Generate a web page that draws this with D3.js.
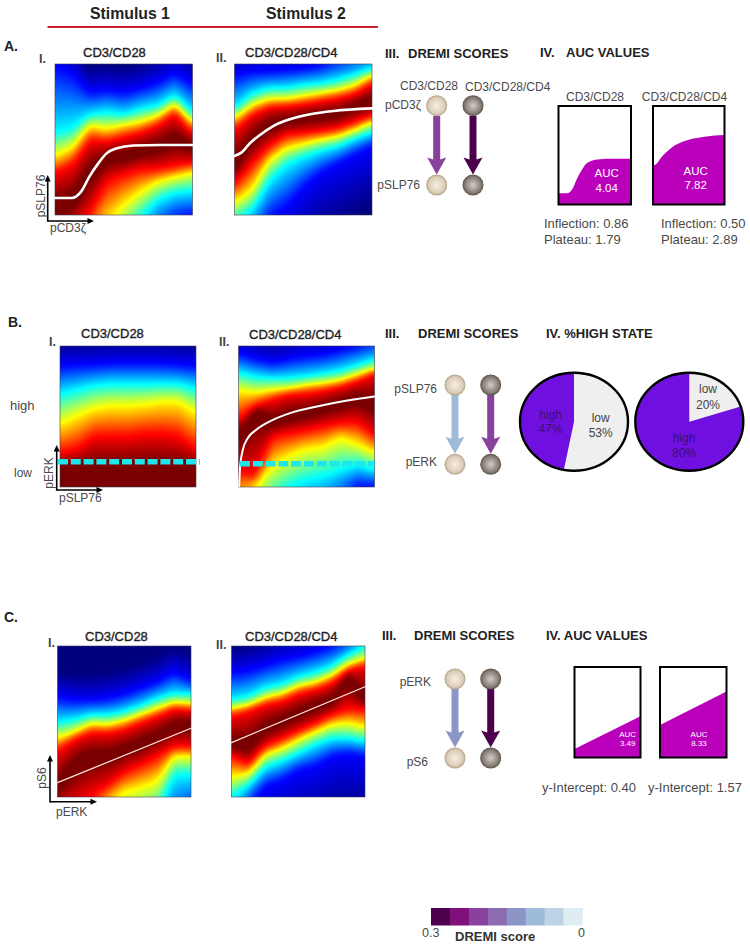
<!DOCTYPE html>
<html><head><meta charset="utf-8">
<script src="https://cdn.jsdelivr.net/npm/d3@7"></script>
<style>html,body{margin:0;padding:0;background:#fff}svg{display:block;font-family:"Liberation Sans",Arial,sans-serif}</style>
</head><body><div id="chart"></div>
<script>
// ---------- DATA ----------
const conditions = ["CD3/CD28", "CD3/CD28/CD4"];
const stimuli = ["Stimulus 1", "Stimulus 2"];
const dremiBins = [0.3, 0.2625, 0.225, 0.1875, 0.15, 0.1125, 0.075, 0.0375];
const dremiColors = ["#4d004b", "#810f7c", "#88419d", "#8c6bb1", "#8c96c6", "#9ebcda", "#bfd3e6", "#e0ecf4"];
// Heat image: per column, depth (% from top) of each colour contour
const heatColumns = [0, .125, .25, .375, .5, .625, .75, .875, 1];
const heatLevels = [.11, .36, .65, .89, 1, .89, .65, .36, .11];
const heatA1 = [
 [1, 6, 19, 17, 19, 16, 12, 6, 13],
 [46, 43, 34, 32, 34, 30, 28, 21, 33],
 [61, 55, 40, 43, 40, 38, 34, 26, 38],
 [72, 66, 50, 51, 48, 45, 40, 32, 45],
 [95, 92, 72, 62, 62, 58, 55, 50, 55],
 [115, 110, 100, 78, 73, 70, 70, 68, 66],
 [130, 125, 115, 106, 94, 85, 78, 75, 72],
 [150, 145, 135, 135, 112, 101, 90, 85, 84],
 [170, 165, 160, 170, 140, 125, 110, 103, 100]];
const heatA2 = [
 [7, 5, 5, 4, 3, 1, -3, -5, -6],
 [30, 20, 16, 16, 14, 13, 11, 7, 3],
 [35, 27, 23, 23, 21, 19, 17, 14, 7],
 [43, 33, 28, 27, 26, 24, 22, 19, 12],
 [68, 50, 40, 38, 36, 34, 33, 28, 24],
 [80, 66, 55, 47, 46, 45, 43, 39, 35],
 [92, 84, 64, 56, 53, 50, 48, 44, 38],
 [104, 96, 77, 66, 61, 57, 54, 49, 45],
 [130, 118, 102, 95, 82, 72, 66, 60, 54]];
const heatB1 = [
 [14, 13, 13, 12, 12, 12, 12, 13, 14],
 [34, 31, 28, 27, 27, 27, 27, 27, 30],
 [55, 49, 44, 42, 42, 41, 39, 39, 47],
 [76, 73, 64, 64, 64, 62, 62, 64, 73],
 [87, 87, 87, 87, 87, 87, 87, 87, 87],
 [140, 140, 140, 140, 140, 140, 140, 140, 140],
 [150, 150, 150, 150, 150, 150, 150, 150, 150],
 [160, 160, 160, 160, 160, 160, 160, 160, 160],
 [170, 170, 170, 170, 170, 170, 170, 170, 170]];
const heatB2 = [
 [5, 9, 12, 9, 7, 6, 3, 0, -3],
 [19, 22, 23, 23, 22, 20, 18, 14, 10],
 [31, 33, 31, 30, 27, 26, 24, 20, 16],
 [52, 42, 37, 33, 33, 31, 28, 24, 18],
 [63, 45, 55, 50, 48, 44, 41, 37, 41],
 [90, 92, 64, 62, 60, 57, 55, 54, 64],
 [107, 100, 85, 78, 73, 72, 65, 70, 76],
 [125, 118, 108, 100, 95, 92, 88, 84, 88],
 [150, 140, 135, 130, 125, 120, 110, 100, 100]];
const heatC1 = [
 [34, 36, 36, 35, 32, 28, 24, 17, 23],
 [51, 49, 46, 46, 44, 40, 35, 32, 32],
 [61, 57, 51, 52, 49, 45, 41, 37, 38],
 [69, 61, 57, 57, 55, 50, 46, 41, 42],
 [95, 78, 73, 73, 69, 65, 60, 53, 52],
 [107, 107, 100, 93, 84, 79, 73, 67, 67],
 [125, 120, 111, 104, 97, 94, 90, 73, 73],
 [146, 142, 135, 129, 120, 113, 109, 85, 85],
 [170, 170, 165, 160, 150, 145, 140, 120, 110]];
const heatC2 = [
 [18, 16, 13, 9, 7, 4, 0, -4, -7],
 [36, 34, 28, 26, 21, 18, 14, 6, 0],
 [41, 39, 34, 31, 26, 24, 19, 12, 8],
 [46, 42, 38, 36, 31, 28, 24, 15, 12],
 [65, 67, 55, 50, 45, 40, 37, 20, 36],
 [73, 79, 67, 62, 57, 52, 46, 42, 42],
 [87, 85, 72, 68, 62, 57, 52, 51, 54],
 [100, 92, 80, 76, 71, 65, 61, 61, 63],
 [122, 105, 93, 89, 82, 80, 73, 71, 73]];
// Fitted response curves (x, y as 0-1 of the plot)
const fitA1x = [0, .12, .19, .25, .315, .375, .45, .57, .76, 1];
const fitA1y = [.113, .113, .155, .254, .342, .408, .442, .46, .464, .464];
const fitA2x = [0, .05, .112, .185, .282, .404, .55, .72, 1];
const fitA2y = [.391, .413, .475, .53, .589, .634, .667, .689, .706];
const fitB2x = [.005, .012, .032, .069, .131, .23, .379, .577, .8, 1];
const fitB2y = [.005, .146, .264, .347, .406, .465, .524, .571, .613, .642];
const fitC1x = [0, 1];
const fitC1y = [.095, .455];
const fitC2x = [0, 1];
const fitC2y = [.36, .73];
const aucA = ["4.04", "7.82"];
const inflection = ["0.86", "0.50"];
const plateau = ["1.79", "2.89"];
const aucC = ["3.49", "8.33"];
const yIntercept = ["0.40", "1.57"];
const highState = [47, 80];
const lowState = [53, 20];

// ---------- helpers ----------
const svg = d3.select("#chart").append("svg").attr("width", 750).attr("height", 945);
const defs = svg.append("defs");
const INK = "#333", SOFT = "#4a4a4a";
function txt(x, y, s, o = {}) {
  const t = svg.append("text").attr("x", x).attr("y", y).text(s)
    .attr("font-size", o.size || 12).attr("fill", o.fill || SOFT)
    .attr("text-anchor", o.anchor || "start").attr("dominant-baseline", "central");
  if (o.bold) t.attr("font-weight", "bold");
  if (o.stroke) t.attr("stroke", o.fill || INK).attr("stroke-width", o.stroke);
  if (o.rotate) t.attr("transform", `rotate(${o.rotate} ${x} ${y})`);
  return t;
}
const jet = d3.scaleLinear()
  .domain([0, .11, .36, .5, .65, .89, .975])
  .range(["#00007f", "#0000ff", "#00ffff", "#7fff7f", "#ffff00", "#ff0000", "#7a0000"])
  .interpolate(d3.interpolateRgb).clamp(true);

function heat(box, rows) {
  const W = Math.round(box.x1 - box.x0), H = Math.round(box.y1 - box.y0);
  const colScales = rows.map(r => d3.scaleLinear().domain(heatColumns).range(r));
  const values = new Float64Array(W * H);
  for (let i = 0; i < W; i++) {
    const f = i / (W - 1);
    const d = colScales.map(s => s(f));
    const v = d3.scaleLinear()
      .domain([d[0] - 17, ...d, d[8] + 40])
      .range([0, ...heatLevels, 0]).clamp(true);
    for (let j = 0; j < H; j++) values[j * W + i] = v(j / (H - 1) * 100);
  }
  d3.blur2({data: values, width: W, height: H}, 3);
  const canvas = document.createElement("canvas");
  canvas.width = W; canvas.height = H;
  const ctx = canvas.getContext("2d");
  const img = ctx.createImageData(W, H);
  values.forEach((v, k) => {
    const c = d3.rgb(jet(v));
    img.data[k * 4] = c.r; img.data[k * 4 + 1] = c.g; img.data[k * 4 + 2] = c.b; img.data[k * 4 + 3] = 255;
  });
  ctx.putImageData(img, 0, 0);
  svg.append("image").attr("x", box.x0).attr("y", box.y0).attr("width", box.x1 - box.x0).attr("height", box.y1 - box.y0)
    .attr("preserveAspectRatio", "none").attr("href", canvas.toDataURL());
  svg.append("rect").attr("x", box.x0).attr("y", box.y0).attr("width", box.x1 - box.x0).attr("height", box.y1 - box.y0)
    .attr("fill", "none").attr("stroke", "#3c3c50").attr("stroke-width", .6);
}
function fitScales(box) {
  return [d3.scaleLinear().domain([0, 1]).range([box.x0, box.x1]), d3.scaleLinear().domain([0, 1]).range([box.y1, box.y0])];
}
function fitLine(box, xs, ys, width, color, curve) {
  const [sx, sy] = fitScales(box);
  const line = d3.line().x(i => sx(xs[i])).y(i => sy(ys[i])).curve(curve || d3.curveMonotoneX);
  svg.append("path").attr("d", line(d3.range(xs.length))).attr("fill", "none")
    .attr("stroke", color).attr("stroke-width", width).attr("stroke-linecap", "round");
}
function aucBox(box, xs, ys, curve) {
  const [sx, sy] = fitScales(box);
  const area = d3.area().x(i => sx(xs[i])).y0(sy(0)).y1(i => sy(ys[i])).curve(curve || d3.curveMonotoneX);
  svg.append("path").attr("d", area(d3.range(xs.length))).attr("fill", "#bb00bb");
  svg.append("rect").attr("x", box.x0).attr("y", box.y0).attr("width", box.x1 - box.x0).attr("height", box.y1 - box.y0)
    .attr("fill", "none").attr("stroke", "#000").attr("stroke-width", 2);
}
function axes(x, y, top, right) {
  const g = svg.append("g").attr("stroke", "#000").attr("fill", "#000");
  g.append("line").attr("x1", x).attr("x2", x).attr("y1", y + .8).attr("y2", top + 3).attr("stroke-width", 1.6);
  g.append("line").attr("x1", x).attr("x2", right - 3).attr("y1", y).attr("y2", y).attr("stroke-width", 1.6);
  g.append("path").attr("stroke", "none").attr("d", `M${x},${top}l-3,6.5h6z`);
  g.append("path").attr("stroke", "none").attr("d", `M${right},${y}l-6.5,-3v6z`);
}
[["beadL", "#f6efe3", "#dccdb6", "#9c8b73"], ["beadR", "#d2cec8", "#857d73", "#453f38"]].forEach(([id, a, b, c]) => {
  const g = defs.append("radialGradient").attr("id", id).attr("cx", "50%").attr("cy", "50%").attr("r", "55%");
  g.append("stop").attr("offset", "0%").attr("stop-color", a);
  g.append("stop").attr("offset", "70%").attr("stop-color", b);
  g.append("stop").attr("offset", "100%").attr("stop-color", c);
});
function bead(x, y, id) {
  svg.append("circle").attr("cx", x).attr("cy", y).attr("r", 10.5).attr("fill", `url(#${id})`);
}
function arrow(x, y0, y1, color) {
  svg.append("path").attr("fill", color).attr("d",
    `M${x - 3.5},${y0}H${x + 3.5}V${y1 - 15}L${x + 9.5},${y1 - 17}L${x},${y1}L${x - 9.5},${y1 - 17}L${x - 3.5},${y1 - 15}Z`);
}
function network(xL, xR, yT, yB, colL, colR) {
  arrow(xL, yT + 10, yB - 10.5, colL);
  arrow(xR, yT + 10, yB - 10.5, colR);
  [yT, yB].forEach(y => { bead(xL, y, "beadL"); bead(xR, y, "beadR"); });
}
function pie(cx, cy, rx, ry, low, high) {
  const g = svg.append("g").attr("transform", `translate(${cx},${cy}) scale(1,${ry / rx})`);
  const arcs = d3.pie().sort(null)([low, high]);
  const arc = d3.arc().innerRadius(0).outerRadius(rx);
  const cols = ["#efefef", "#7010e0"];
  g.selectAll("path").data(arcs).join("path").attr("d", arc).attr("fill", (d, i) => cols[i]);
  svg.append("ellipse").attr("cx", cx).attr("cy", cy).attr("rx", rx).attr("ry", ry)
    .attr("fill", "none").attr("stroke", "#000").attr("stroke-width", 2.4);
}
const heading = (x, y, s, size) => txt(x, y, s, {size: size || 13, bold: true, fill: "#222"});
const title = (x, y, s) => txt(x, y, s, {size: 13, fill: "#222", stroke: .35});
const roman = (x, y, s) => txt(x, y, s, {size: 12.5, bold: true, fill: "#444"});

// ---------- top banner ----------
txt(90, 13, stimuli[0], {size: 15.8, bold: true, fill: "#222"});
txt(266, 13, stimuli[1], {size: 15.8, bold: true, fill: "#222"});
svg.append("line").attr("x1", 47.5).attr("x2", 378).attr("y1", 27).attr("y2", 27).attr("stroke", "#c8202e").attr("stroke-width", 2);

// ---------- Panel A ----------
const boxA1 = {x0: 55, x1: 192.5, y0: 64, y1: 215}, boxA2 = {x0: 234.5, x1: 372, y0: 64, y1: 215};
heat(boxA1, heatA1); heat(boxA2, heatA2);
fitLine(boxA1, fitA1x, fitA1y, 2.6, "#fff");
fitLine(boxA2, fitA2x, fitA2y, 2.6, "#fff");
axes(47.7, 221, 175, 94);
heading(4, 46, "A.", 14);
roman(39, 59, "I.");
roman(216, 58, "II.");
title(83, 52, conditions[0]); title(245, 52, conditions[1]);
txt(41, 196, "pSLP76", {size: 12, anchor: "middle", rotate: -90});
txt(50, 228, "pCD3ζ", {size: 12});
heading(385, 53, "III."); heading(408, 53, "DREMI SCORES");
heading(540, 52, "IV."); heading(566, 52, "AUC VALUES");
txt(400, 86, conditions[0]); txt(465, 87, conditions[1]);
txt(421, 105, "pCD3ζ", {anchor: "end"}); txt(420, 185, "pSLP76", {anchor: "end"});
network(436.7, 473, 105.7, 185, dremiColors[2], dremiColors[0]);
txt(595, 97, conditions[0], {anchor: "middle"}); txt(684.5, 97, conditions[1], {anchor: "middle"});
const boxA3 = {x0: 558.5, x1: 631, y0: 106, y1: 204.5}, boxA4 = {x0: 653, x1: 724.5, y0: 106, y1: 204.5};
aucBox(boxA3, fitA1x, fitA1y); aucBox(boxA4, fitA2x, fitA2y);
txt(606.7, 173, "AUC", {size: 11.5, fill: "#fff", anchor: "middle"}); txt(606.7, 187.7, aucA[0], {size: 11.5, fill: "#fff", anchor: "middle"});
txt(695.7, 171, "AUC", {size: 11.5, fill: "#fff", anchor: "middle"}); txt(695.7, 185, aucA[1], {size: 11.5, fill: "#fff", anchor: "middle"});
txt(544, 223, "Inflection: " + inflection[0], {size: 13}); txt(544, 239, "Plateau: " + plateau[0], {size: 13});
txt(661, 223, "Inflection: " + inflection[1], {size: 13}); txt(661, 239, "Plateau: " + plateau[1], {size: 13});

// ---------- Panel B ----------
const boxB1 = {x0: 60, x1: 196, y0: 346, y1: 487}, boxB2 = {x0: 238.5, x1: 374.5, y0: 346, y1: 487};
heat(boxB1, heatB1); heat(boxB2, heatB2);
fitLine(boxB2, fitB2x, fitB2y, 2, "#fff");
[[58, 200, 461.7], [240, 374.5, 463.7]].forEach(([a, b, y]) => {
  svg.append("line").attr("x1", a).attr("x2", b).attr("y1", y).attr("y2", y)
    .attr("stroke", "#1ee6ea").attr("stroke-width", 5.5).attr("stroke-dasharray", "10 2.8");
});
axes(56.7, 490, 445, 103);
heading(8, 322, "B.", 14);
roman(49, 342, "I.");
roman(219, 342, "II.");
title(81, 333, conditions[0]); title(249, 334, conditions[1]);
txt(10, 405, "high", {size: 13}); txt(14, 473, "low", {size: 12});
txt(49, 473, "pERK", {size: 12, anchor: "middle", rotate: -90});
txt(59, 498, "pSLP76", {size: 12});
heading(385, 333, "III."); heading(418, 333, "DREMI SCORES"); heading(546, 333, "IV. %HIGH STATE");
txt(437, 389, "pSLP76", {anchor: "end"}); txt(437, 462, "pERK", {anchor: "end"});
network(455, 490.7, 385, 464.3, dremiColors[5], dremiColors[2]);
pie(574, 421.7, 54, 49, lowState[0], highState[0]);
pie(689.3, 421.7, 54, 49, lowState[1], highState[1]);
const pTxt = (x, y, s, f) => txt(x, y, s, {size: 12, fill: f, anchor: "middle"});
pTxt(550.7, 415, "high", "#3a1070"); pTxt(550.7, 429, highState[0] + "%", "#3a1070");
pTxt(600.7, 418, "low", "#444"); pTxt(600.7, 433, lowState[0] + "%", "#444");
pTxt(708, 389, "low", "#444"); pTxt(708, 405, lowState[1] + "%", "#444");
pTxt(684, 438, "high", "#3a1070"); pTxt(684, 453, highState[1] + "%", "#3a1070");

// ---------- Panel C ----------
const boxC1 = {x0: 57.5, x1: 191, y0: 646, y1: 797}, boxC2 = {x0: 231.5, x1: 365, y0: 646, y1: 797};
heat(boxC1, heatC1); heat(boxC2, heatC2);
fitLine(boxC1, fitC1x, fitC1y, 1.2, "#ffe8e0", d3.curveLinear);
fitLine(boxC2, fitC2x, fitC2y, 1.2, "#ffe8e0", d3.curveLinear);
axes(50, 801.7, 755, 97);
heading(4, 617, "C.", 14);
roman(48, 643, "I.");
roman(216, 645, "II.");
title(85, 636, conditions[0]); title(245, 636, conditions[1]);
txt(42, 778, "pS6", {size: 12, anchor: "middle", rotate: -90});
txt(56, 812, "pERK", {size: 12});
heading(382, 635, "III."); heading(414, 635, "DREMI SCORES"); heading(546, 635, "IV. AUC VALUES");
txt(431, 682, "pERK", {anchor: "end"}); txt(428, 762, "pS6", {anchor: "end"});
network(455, 490.7, 679, 758, dremiColors[4], dremiColors[0]);
const boxC3 = {x0: 574.5, x1: 640.5, y0: 667, y1: 757.5}, boxC4 = {x0: 660, x1: 726.5, y0: 667, y1: 757.5};
aucBox(boxC3, fitC1x, fitC1y, d3.curveLinear); aucBox(boxC4, fitC2x, fitC2y, d3.curveLinear);
txt(627.7, 734, "AUC", {size: 8, fill: "#fff", anchor: "middle"}); txt(627.7, 743.5, aucC[0], {size: 8, fill: "#fff", anchor: "middle"});
txt(699, 734, "AUC", {size: 8, fill: "#fff", anchor: "middle"}); txt(699, 743.5, aucC[1], {size: 8, fill: "#fff", anchor: "middle"});
txt(542, 787.7, "y-Intercept: " + yIntercept[0], {size: 13}); txt(648, 787.7, "y-Intercept: " + yIntercept[1], {size: 13});

// ---------- Legend ----------
const legX = d3.scaleBand().domain(dremiBins).range([431, 582.5]);
svg.append("g").selectAll("rect").data(dremiBins).join("rect")
  .attr("x", d => legX(d)).attr("y", 908).attr("width", legX.bandwidth() + .3).attr("height", 17.5)
  .attr("fill", (d, i) => dremiColors[i]);
txt(422, 933, dremiBins[0].toFixed(1), {size: 12.5});
txt(455, 936, "DREMI score", {size: 13, bold: true, fill: "#333"});
txt(578, 933, "0", {size: 12.5});
</script></body></html>
